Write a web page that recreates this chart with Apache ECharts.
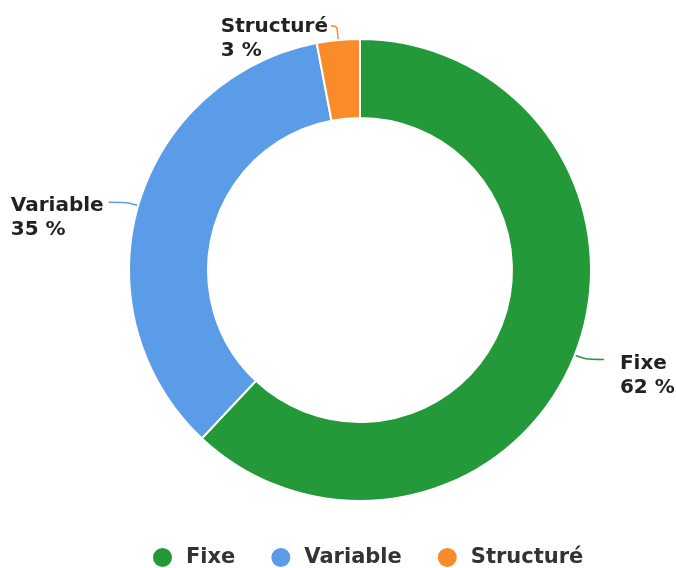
<!DOCTYPE html>
<html><head><meta charset="utf-8">
<script src="https://cdn.jsdelivr.net/npm/echarts@6/dist/echarts.min.js"></script>
<style>html,body{margin:0;padding:0;background:#fff}#c{width:676px;height:568px}</style>
</head><body><div id="c"></div>
<script>
const categories = ['Fixe', 'Variable', 'Structuré'];
const values = [62, 35, 3];
const colors = ['#23993a', '#5b9ce9', '#f98b2a'];

const labelTweaks = [
  { label: { distanceToLabelLine: 16 } },
  {},
  { label: { padding: [26, 0, 0, 0], distanceToLabelLine: 3 }, labelLine: { length: 14, length2: 6 } }
];

const chart = echarts.init(document.getElementById('c'));
chart.setOption({
  animation: false,
  color: colors,
  legend: {
    top: 541,
    left: 146,
    icon: 'circle',
    itemWidth: 21,
    itemHeight: 21,
    itemGap: 34,
    textStyle: { fontFamily: 'DejaVu Sans', fontWeight: 'bold', fontSize: 21, color: '#333', padding: [0, 0, 0, 8] },
    data: categories
  },
  series: [{
    type: 'pie',
    center: [360, 270],
    radius: [152, 231],
    startAngle: 90,
    clockwise: true,
    itemStyle: { borderColor: '#fff', borderWidth: 2 },
    label: {
      show: true,
      overflow: 'none',
      padding: [32, 0, 0, 0],
      formatter: '{t|{b}}\n{t|{d} %}',
      rich: {
        t: {
          fontFamily: 'DejaVu Sans',
          fontWeight: 'bold',
          fontSize: 20,
          lineHeight: 24,
          color: '#222',
          align: 'left'
        }
      }
    },
    labelLine: { show: true, length: 12, length2: 18, smooth: true, lineStyle: { width: 1.5 } },
    data: categories.map((c, i) => Object.assign({ name: c, value: values[i] }, labelTweaks[i]))
  }]
});
</script></body></html>
